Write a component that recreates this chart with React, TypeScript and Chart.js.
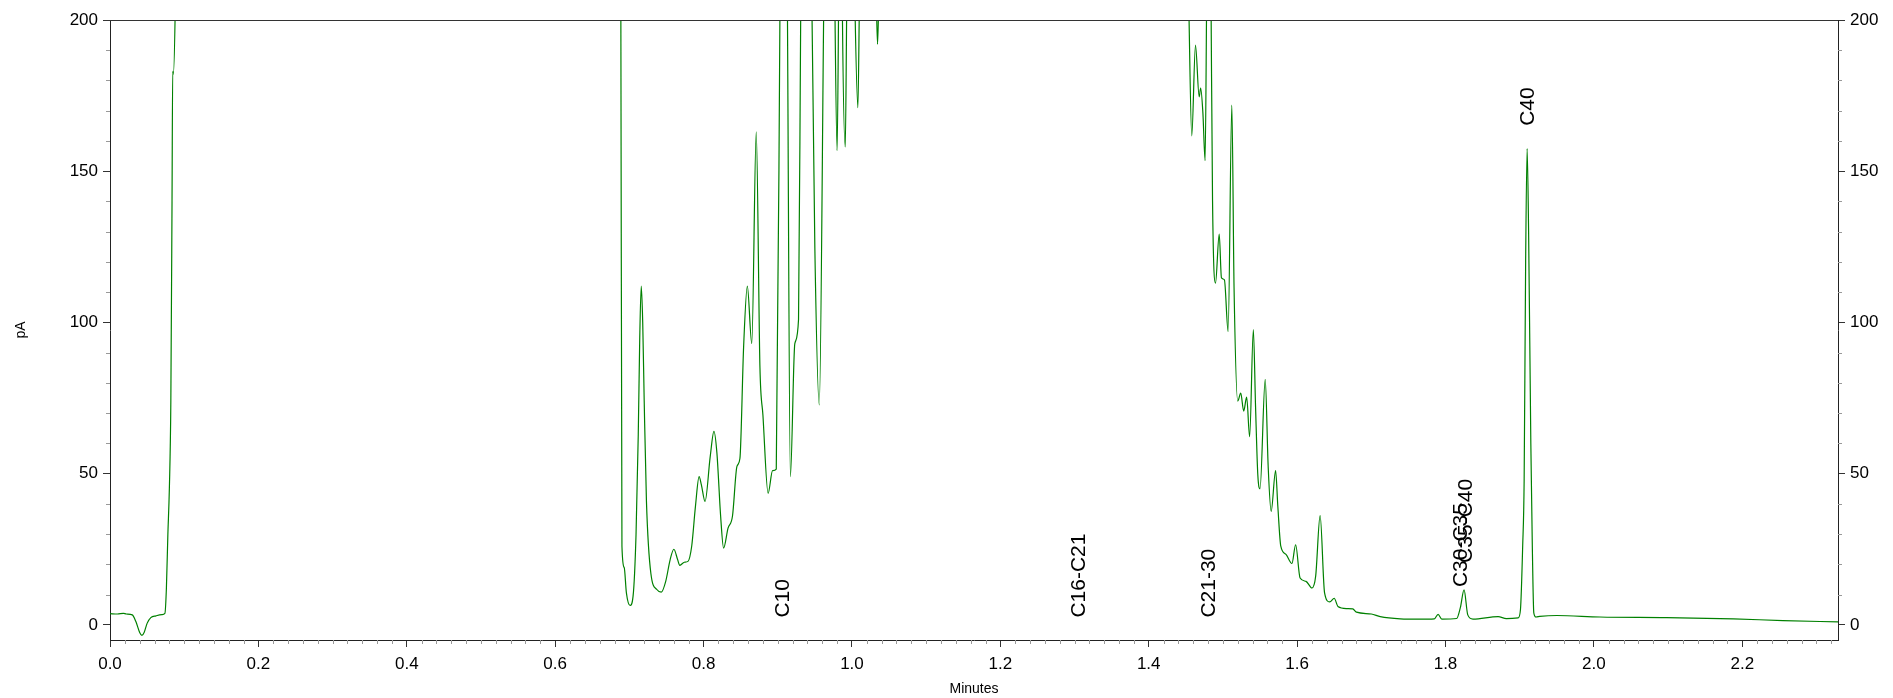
import React, { useEffect, useRef } from "react";
import { Chart, registerables } from "chart.js";

Chart.register(...registerables);

// retention time (min) and detector signal (pA); values above 200 are off scale
const times = [
  0.0, 0.01, 0.018, 0.022, 0.03, 0.035, 0.04, 0.043, 0.046, 0.05, 0.055, 0.062, 0.07, 0.074,
  0.076, 0.078, 0.08, 0.082, 0.0836, 0.0845, 0.0853, 0.088, 0.092, 0.3, 0.6, 0.686, 0.6885,
  0.69, 0.693, 0.696, 0.701, 0.705, 0.709, 0.712, 0.714, 0.716, 0.718, 0.72, 0.723, 0.729,
  0.737, 0.743, 0.749, 0.755, 0.76, 0.765, 0.768, 0.774, 0.779, 0.784, 0.789, 0.794, 0.797,
  0.802, 0.809, 0.814, 0.818, 0.823, 0.827, 0.833, 0.839, 0.845, 0.849, 0.854, 0.859, 0.865,
  0.871, 0.876, 0.88, 0.887, 0.893, 0.898, 0.903, 0.908, 0.913, 0.917, 0.923, 0.928, 0.931,
  0.9385, 0.946, 0.95, 0.956, 0.962, 0.97, 0.977, 0.98, 0.982, 0.9845, 0.987, 0.991, 0.993,
  0.9985, 1.004, 1.008, 1.01, 1.02, 1.033, 1.0345, 1.036, 1.05, 1.2, 1.44, 1.454, 1.458,
  1.463, 1.468, 1.47, 1.473, 1.476, 1.478, 1.481, 1.484, 1.486, 1.49, 1.495, 1.498, 1.502,
  1.507, 1.512, 1.515, 1.52, 1.524, 1.528, 1.532, 1.536, 1.541, 1.544, 1.547, 1.55, 1.557,
  1.561, 1.565, 1.571, 1.574, 1.578, 1.585, 1.593, 1.598, 1.604, 1.612, 1.62, 1.625, 1.631,
  1.637, 1.644, 1.65, 1.655, 1.667, 1.675, 1.68, 1.7, 1.712, 1.739, 1.765, 1.785, 1.79, 1.795,
  1.815, 1.82, 1.825, 1.83, 1.837, 1.871, 1.882, 1.898, 1.901, 1.904, 1.906, 1.908, 1.91,
  1.912, 1.915, 1.917, 1.919, 1.922, 1.927, 1.95, 2.008, 2.098, 2.188, 2.255, 2.329,
];
const signal = [
  3.7, 3.6, 3.8, 3.6, 3.3, 1.0, -2.5, -3.5, -2.5, 0.5, 2.4, 3.0, 3.4, 3.8,
  12, 30, 45, 74, 140, 183, 182, 205, 300, 320, 320, 300, 205,
  26, 19, 10.6, 6.4, 9.5, 30, 63, 95, 112, 100, 74, 41, 17,
  11.7, 10.8, 14.4, 21.6, 25, 21.6, 19.7, 20.7, 21, 26, 39, 49, 46.4,
  40.8, 55.7, 64, 56.8, 36, 25.4, 32, 36, 52.4, 55, 92, 112, 93,
  163, 85, 69.4, 43.5, 51, 51.5, 205, 400, 205, 49, 93, 101, 205,
  400, 205, 124.6, 72.7, 205, 400, 205, 156.8, 205, 300, 205, 158, 205,
  300, 205, 171, 205, 400, 205, 192, 205, 400, 500, 400, 205, 161.7,
  191.7, 174.6, 177.5, 169.3, 153.5, 205, 300, 205, 140.4, 113, 129.2, 114.8, 114.1,
  97, 171.9, 111.5, 74, 76.6, 70.7, 75.3, 62.2, 97.6, 72, 49.7, 45, 81.2,
  52.3, 37.5, 51, 39.2, 26, 23.3, 20.3, 26.5, 15.5, 14.4, 12.2, 16.1, 36.1,
  10.6, 7.6, 8.8, 6.1, 5.4, 5.3, 4.2, 3.6, 2.7, 2.0, 1.9, 2.0, 3.5, 1.9,
  2.1, 5.7, 11.6, 3.3, 1.9, 2.7, 2.1, 2.3, 5, 26, 48, 120, 157.5,
  130, 60, 26, 4, 2.6, 2.8, 3.1, 2.6, 2.4, 2.0, 1.4, 1.0,
];

// peak annotations: text, time, level where the rotated text starts
const peakNames = ["C10", "C16-C21", "C21-30", "C30-C35", "C35-C40", "C40"];
const peakTimes = [0.907, 1.306, 1.481, 1.821, 1.828, 1.911];
const peakLevels = [2.4, 2.4, 2.4, 12.5, 20.5, 165];

const xMajor = [0, 0.2, 0.4, 0.6, 0.8, 1.0, 1.2, 1.4, 1.6, 1.8, 2.0, 2.2];
const yMajor = [0, 50, 100, 150, 200];

const FONT = '"Liberation Sans", Arial, Helvetica, sans-serif';

const decorPlugin = {
  id: "decor",
  afterDraw(chart: any) {
    const { ctx, chartArea, scales } = chart;
    const x = scales.x;
    const y = scales.y;
    ctx.save();
    // top frame line
    ctx.strokeStyle = "#333";
    ctx.lineWidth = 1;
    ctx.beginPath();
    ctx.moveTo(chartArea.left, chartArea.top + 0.5);
    ctx.lineTo(chartArea.right, chartArea.top + 0.5);
    ctx.stroke();

    // minor ticks
    ctx.strokeStyle = "#999";
    ctx.beginPath();
    for (let i = 1; i * 0.02 <= x.max; i++) {
      if (i % 10 === 0) continue;
      const px = Math.round(x.getPixelForValue(i * 0.02)) + 0.5;
      ctx.moveTo(px, chartArea.bottom);
      ctx.lineTo(px, chartArea.bottom + 4);
    }
    for (let v = 10; v < 200; v += 10) {
      if (v % 50 === 0) continue;
      const py = Math.round(y.getPixelForValue(v)) + 0.5;
      ctx.moveTo(chartArea.left, py);
      ctx.lineTo(chartArea.left - 4, py);
      ctx.moveTo(chartArea.right, py);
      ctx.lineTo(chartArea.right + 4, py);
    }
    ctx.stroke();

    // axis titles
    ctx.fillStyle = "#000";
    ctx.font = `14px ${FONT}`;
    ctx.textAlign = "center";
    ctx.textBaseline = "middle";
    ctx.fillText("Minutes", (chartArea.left + chartArea.right) / 2, 689);
    ctx.save();
    ctx.translate(21, (chartArea.top + chartArea.bottom) / 2);
    ctx.rotate(-Math.PI / 2);
    ctx.fillText("pA", 0, 0);
    ctx.restore();

    // peak labels
    ctx.font = `21px ${FONT}`;
    ctx.textAlign = "left";
    ctx.textBaseline = "middle";
    peakNames.forEach((name, i) => {
      ctx.save();
      ctx.translate(x.getPixelForValue(peakTimes[i]), y.getPixelForValue(peakLevels[i]));
      ctx.rotate(-Math.PI / 2);
      ctx.fillText(name, 0, 0);
      ctx.restore();
    });
    ctx.restore();
  },
};

const App: React.FC = () => {
  const canvasRef = useRef<HTMLCanvasElement | null>(null);
  const chartRef = useRef<Chart | null>(null);

  useEffect(() => {
    document.body.style.margin = "0";
    if (chartRef.current) chartRef.current.destroy();
    if (!canvasRef.current) return;

    const tickFont = { family: FONT, size: 17 };
    const yAxis = (position: "left" | "right", width: number) => ({
      type: "linear" as const,
      position,
      min: -5,
      max: 200,
      afterBuildTicks: (s: any) => {
        s.ticks = yMajor.map((v) => ({ value: v }));
      },
      afterFit: (s: any) => {
        s.width = width;
      },
      ticks: { color: "#000", font: tickFont, padding: 5 },
      grid: { drawOnChartArea: false, tickLength: 7, color: "#333" },
      border: { color: "#222", width: 1 },
    });

    chartRef.current = new Chart(canvasRef.current, {
      type: "line",
      data: {
        datasets: [
          {
            data: times.map((t, i) => ({ x: t, y: signal[i] })),
            borderColor: "#008000",
            borderWidth: 1.2,
            pointRadius: 0,
            cubicInterpolationMode: "monotone",
          },
        ],
      },
      options: {
        animation: false,
        responsive: true,
        maintainAspectRatio: false,
        layout: { padding: { top: 20, left: 0, right: 0, bottom: 0 } },
        plugins: { legend: { display: false }, tooltip: { enabled: false } },
        scales: {
          x: {
            type: "linear",
            position: "bottom",
            min: 0,
            max: 2.329,
            afterBuildTicks: (s: any) => {
              s.ticks = xMajor.map((v) => ({ value: v }));
            },
            afterFit: (s: any) => {
              s.height = 58;
            },
            ticks: {
              color: "#000",
              font: tickFont,
              padding: 7,
              maxRotation: 0,
              callback: (v: any) => Number(v).toFixed(1),
            },
            grid: { drawOnChartArea: false, tickLength: 7, color: "#333" },
            border: { color: "#222", width: 1 },
          },
          y: yAxis("left", 110),
          y2: yAxis("right", 55),
        },
      },
      plugins: [decorPlugin],
    });

    return () => {
      if (chartRef.current) {
        chartRef.current.destroy();
        chartRef.current = null;
      }
    };
  }, []);

  return (
    <div style={{ width: 1893, height: 698, position: "relative", background: "#fff" }}>
      <canvas ref={canvasRef} />
    </div>
  );
};

export default App;
